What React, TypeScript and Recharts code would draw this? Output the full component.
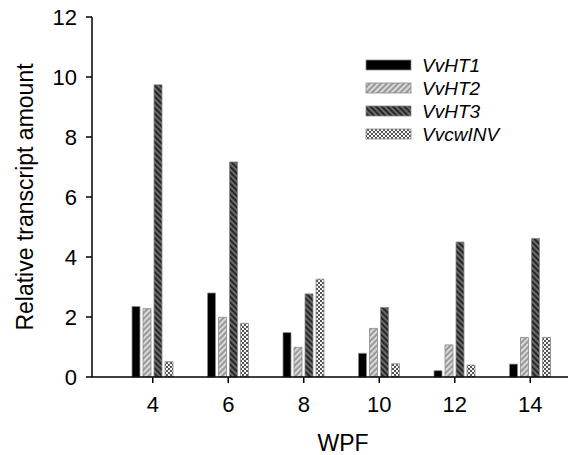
import { BarChart, Bar, XAxis, YAxis } from 'recharts'

const weeks = ['4', '6', '8', '10', '12', '14']
const vvHT1 = [2.35, 2.8, 1.48, 0.79, 0.21, 0.43]
const vvHT2 = [2.28, 1.99, 0.99, 1.62, 1.07, 1.32]
const vvHT3 = [9.74, 7.17, 2.77, 2.32, 4.5, 4.62]
const vvcwINV = [0.51, 1.79, 3.26, 0.44, 0.4, 1.32]
const yTicks = [0, 2, 4, 6, 8, 10, 12]

const data = weeks.map((w, i) => ({
  wpf: w,
  VvHT1: vvHT1[i],
  VvHT2: vvHT2[i],
  VvHT3: vvHT3[i],
  VvcwINV: vvcwINV[i],
}))

const series = [
  { key: 'VvHT1', fill: '#000' },
  { key: 'VvHT2', fill: 'url(#pHT2)' },
  { key: 'VvHT3', fill: 'url(#pHT3)' },
  { key: 'VvcwINV', fill: 'url(#pINV)' },
]

const font = '"Liberation Sans", Arial, sans-serif'

function LegendBox() {
  return (
    <svg
      width={200}
      height={100}
      style={{ position: 'absolute', left: 359, top: 56, fontFamily: font }}
    >
      {series.map((s, i) => (
        <g key={s.key} transform={`translate(0, ${i * 23})`}>
          <rect x={7} y={4} width={45} height={10} fill={s.fill} stroke="#888" strokeWidth={0.8} />
          <text x={63} y={16} fontSize={19} fontStyle="italic" fill="#000">
            {s.key}
          </text>
        </g>
      ))}
    </svg>
  )
}

export default function App() {
  return (
    <div style={{ position: 'absolute', left: 0, top: 0, width: 583, height: 455, background: '#fff' }}>
      <BarChart
        width={583}
        height={455}
        data={data}
        margin={{ top: 17, right: 15, bottom: 0, left: 0 }}
        barSize={8}
        barGap={3}
        style={{ fontFamily: font }}
      >
        <defs>
          <pattern id="pHT2" patternUnits="userSpaceOnUse" width={4} height={4} patternTransform="rotate(45)">
            <rect width={4} height={4} fill="#9a9a9a" />
            <rect width={1.6} height={4} fill="#e8e8e8" />
          </pattern>
          <pattern id="pHT3" patternUnits="userSpaceOnUse" width={4} height={4} patternTransform="rotate(-45)">
            <rect width={4} height={4} fill="#6a6a6a" />
            <rect width={1.8} height={4} fill="#202020" />
          </pattern>
          <pattern id="pINV" patternUnits="userSpaceOnUse" width={4} height={4}>
            <rect width={4} height={4} fill="#f4f4f4" />
            <rect width={2} height={2} fill="#555" />
            <rect x={2} y={2} width={2} height={2} fill="#555" />
          </pattern>
        </defs>
        <XAxis
          dataKey="wpf"
          height={78}
          padding={{ left: 23, right: 0 }}
          axisLine={{ stroke: '#000', strokeWidth: 1.5 }}
          tickLine={{ stroke: '#000', strokeWidth: 1.5 }}
          tickSize={6}
          tickMargin={13}
          tick={{ fill: '#000', fontSize: 22 }}
          label={{ value: 'WPF', position: 'insideBottom', offset: 4, dx: 13, fill: '#000', fontSize: 23 }}
        />
        <YAxis
          domain={[0, 12]}
          ticks={yTicks}
          width={92}
          interval={0}
          axisLine={{ stroke: '#000', strokeWidth: 1.5 }}
          tickLine={{ stroke: '#000', strokeWidth: 1.5 }}
          tickSize={6}
          tickMargin={9}
          tick={{ fill: '#000', fontSize: 22 }}
          label={{
            value: 'Relative transcript amount',
            angle: -90,
            position: 'insideLeft',
            offset: 25,
            style: { textAnchor: 'middle' },
            fill: '#000',
            fontSize: 23,
          }}
        />
        {series.map(s => (
          <Bar
            key={s.key}
            dataKey={s.key}
            fill={s.fill}
            stroke="#8a8a8a"
            strokeWidth={0.8}
            isAnimationActive={false}
          />
        ))}
      </BarChart>
      <LegendBox />
    </div>
  )
}
